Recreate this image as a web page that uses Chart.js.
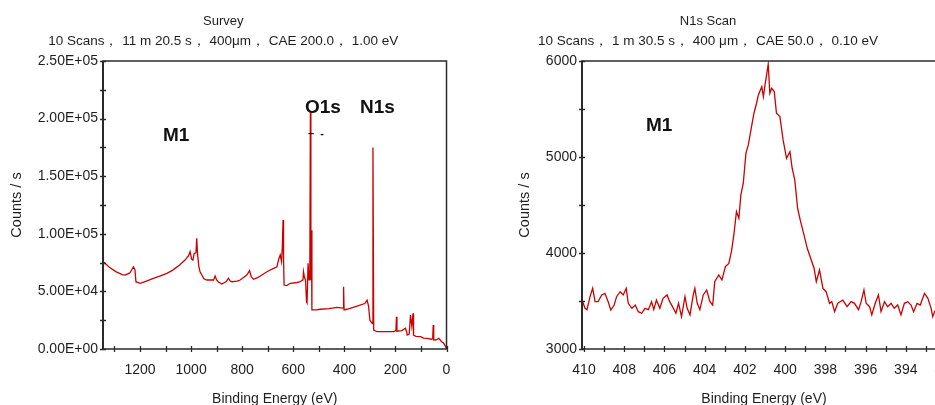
<!DOCTYPE html>
<html>
<head>
<meta charset="utf-8">
<script src="https://cdn.jsdelivr.net/npm/chart.js@4.4.1/dist/chart.umd.min.js"></script>
<style>
  html, body { margin: 0; padding: 0; background: #fff; overflow: hidden; width: 935px; height: 405px; }
  .panel { position: absolute; top: 0; }
  #surveyBox { left: 0; }
  #n1sBox { left: 470px; }
</style>
</head>
<body>
<div class="panel" id="surveyBox"><canvas id="survey" width="460" height="410"></canvas></div>
<div class="panel" id="n1sBox"><canvas id="n1s" width="490" height="410"></canvas></div>
<script>
// survey spectrum, binding energy (eV) vs counts/s
const surveyEnergy = [
  1345, 1320, 1293, 1270, 1259, 1240, 1233, 1226, 1220, 1216, 1200, 1175, 1148, 1120, 1095,
  1075, 1063, 1045, 1024, 1010, 1004, 998, 993, 988, 981, 978, 975, 970, 965, 950,
  938, 912, 906, 900, 894, 880, 862, 854, 847, 840, 820, 808, 782, 771, 765,
  756, 740, 729, 703, 677, 664, 657, 651, 646, 643, 640, 638, 636, 625, 612,
  590, 573, 562, 560, 556, 552, 548, 546, 542, 538, 535, 533, 531, 529, 527,
  510, 494, 460, 429, 405, 403, 401, 390, 350, 320, 311, 305, 300, 290, 288,
  285, 272, 240, 207, 198, 196, 194, 175, 161, 156, 154, 146, 141, 136, 131,
  129, 120, 102, 90, 76, 60, 54, 52, 50, 40, 30, 20, 11, 0
];
const surveyCounts = [
  76000, 71000, 67000, 64500, 64200, 66000, 68600, 71400, 69000, 58400, 57000, 59000, 61300, 63500, 65700,
  68000, 70000, 73000, 77200, 81000, 84500, 78000, 77200, 83000, 83500, 96000, 83000, 72000, 67100, 61000,
  59900, 59900, 63400, 60000, 58400, 56400, 58500, 61400, 59000, 58400, 59000, 59900, 64200, 68000, 63000,
  60500, 62000, 63400, 67100, 70000, 71400, 78000, 81600, 76000, 88000, 112000, 78000, 55500, 55000, 57000,
  57500, 58400, 60000, 67100, 62000, 60000, 41000, 40000, 74400, 60000, 75000, 206000, 60000, 103000, 33900,
  34000, 34500, 35000, 36200, 35500, 54000, 34000, 34500, 37300, 39500, 42500, 37000, 25000, 22000, 175000,
  16500, 15000, 15000, 15000, 16000, 28000, 15500, 16000, 18000, 15000, 12100, 13000, 29500, 20000, 31000,
  12000, 11000, 10700, 9500, 9300, 8500, 9000, 20800, 7800, 8000, 9300, 6500, 5000, 600
];

// N1s high resolution scan
const n1sEnergy = [
  410.1, 409.95, 409.85, 409.7, 409.57, 409.45, 409.3, 409.12, 408.96, 408.8,
  408.67, 408.5, 408.38, 408.2, 408.05, 407.9, 407.8, 407.62, 407.45, 407.3,
  407.13, 406.97, 406.8, 406.64, 406.53, 406.4, 406.23, 406.07, 405.87, 405.74,
  405.6, 405.43, 405.3, 405.15, 404.98, 404.87, 404.73, 404.57, 404.49, 404.37,
  404.24, 404.07, 403.9, 403.74, 403.6, 403.5, 403.3, 403.14, 402.97, 402.8,
  402.67, 402.55, 402.42, 402.3, 402.2, 402.08, 401.95, 401.83, 401.67, 401.55,
  401.42, 401.33, 401.16, 401.08, 401.0, 400.92, 400.84, 400.76, 400.67, 400.54,
  400.43, 400.26, 400.1, 399.93, 399.76, 399.65, 399.52, 399.38, 399.23, 399.06,
  398.9, 398.73, 398.56, 398.45, 398.29, 398.12, 397.96, 397.79, 397.68, 397.54,
  397.38, 397.13, 396.92, 396.72, 396.55, 396.35, 396.22, 396.08, 395.97, 395.8,
  395.69, 395.52, 395.36, 395.23, 395.06, 394.9, 394.73, 394.57, 394.4, 394.24,
  394.07, 393.9, 393.74, 393.61, 393.44, 393.28, 393.07, 392.9, 392.74, 392.66, 392.55
];
const n1sCounts = [
  3510, 3424, 3410, 3545, 3632, 3493, 3493, 3563, 3580, 3493,
  3406, 3458, 3545, 3597, 3563, 3632, 3476, 3424, 3458, 3389,
  3372, 3424, 3410, 3493, 3410, 3510, 3424, 3528, 3563, 3493,
  3441, 3372, 3476, 3337, 3545, 3424, 3355, 3563, 3632, 3476,
  3410, 3563, 3615, 3493, 3458, 3701, 3771, 3719, 3858, 3892,
  4014, 4188, 4431, 4362, 4605, 4727, 5039, 5126, 5316, 5456,
  5560, 5647, 5733, 5629, 5751, 5855, 5966, 5664, 5716, 5681,
  5456, 5421, 5178, 4987, 5056, 4883, 4761, 4466, 4327, 4188,
  4049, 3945, 3841, 3701, 3823, 3632, 3597, 3476, 3493, 3389,
  3476, 3510, 3441, 3493, 3476, 3410, 3493, 3615, 3476, 3441,
  3355, 3476, 3563, 3389, 3493, 3441, 3476, 3424, 3458, 3355,
  3476, 3493, 3458, 3389, 3476, 3458, 3580, 3528, 3424, 3337, 3400
];

const RED = '#cc0000';
const INK = '#1e1e1e';
const FONT = '"Liberation Sans", Arial, sans-serif';

// 2.50E+05 style labels
function sci(v) {
  const [m, e] = v.toExponential(2).split('e');
  const n = Math.abs(+e);
  return m + 'E' + (+e < 0 ? '-' : '+') + String(n).padStart(2, '0');
}

// box around the plot, ticks crossing the axes and the peak labels
const frameTicks = {
  id: 'frameTicks',
  afterDatasetsDraw(chart, args, opts) {
    const { ctx, chartArea: a, scales } = chart;
    ctx.save();
    ctx.strokeStyle = '#2a2a2a';
    ctx.lineWidth = 1.5;
    ctx.strokeRect(a.left, a.top, a.right - a.left, a.bottom - a.top);
    ctx.lineWidth = 2;
    ctx.beginPath();
    ctx.moveTo(a.left, a.top);
    ctx.lineTo(a.left, a.bottom);
    ctx.stroke();

    ctx.lineWidth = 1.3;
    ctx.beginPath();
    scales.x.ticks.forEach((t, i) => {
      const px = Math.round(scales.x.getPixelForTick(i)) + 0.5;
      ctx.moveTo(px, a.bottom - 3);
      ctx.lineTo(px, a.bottom + 3);
    });
    scales.y.ticks.forEach((t, i) => {
      const py = Math.round(scales.y.getPixelForTick(i)) + 0.5;
      ctx.moveTo(a.left - 3, py);
      ctx.lineTo(a.left + 3, py);
    });
    ctx.stroke();

    ctx.fillStyle = '#111';
    ctx.textBaseline = 'alphabetic';
    (opts.labels || []).forEach(l => {
      ctx.font = l.font || ('bold 19px ' + FONT);
      ctx.fillText(l.text, l.x, l.y);
    });
    ctx.restore();
  }
};

function buildChart(id, cfg) {
  const points = cfg.xs.map((x, i) => ({ x, y: cfg.ys[i] }));
  return new Chart(document.getElementById(id), {
    type: 'line',
    data: {
      datasets: [{
        data: points,
        borderColor: RED,
        borderWidth: 1.3,
        pointRadius: 0,
        tension: 0,
        fill: false
      }]
    },
    options: {
      responsive: false,
      animation: false,
      events: [],
      layout: { padding: { left: 0, right: cfg.padRight, top: 0, bottom: 0 } },
      plugins: {
        legend: { display: false },
        tooltip: { enabled: false },
        title: {
          display: true,
          text: cfg.title,
          color: INK,
          font: { family: FONT, size: 13, weight: 'normal' },
          padding: { top: 14, bottom: 0 }
        },
        subtitle: {
          display: true,
          text: cfg.subtitle,
          color: INK,
          font: { family: FONT, size: 13.5 },
          padding: { top: 4, bottom: 11.2 }
        },
        frameTicks: { labels: cfg.labels }
      },
      scales: {
        x: {
          type: 'linear',
          reverse: true,
          min: cfg.xMin,
          max: cfg.xMax,
          // fixed axis height, and no extra room for the end labels
          afterFit: s => { s.height = 61; s.paddingLeft = 0; s.paddingRight = 0; },
          grid: { display: false, drawTicks: false },
          border: { display: false },
          ticks: {
            stepSize: cfg.xStep,
            includeBounds: false,
            autoSkip: false,
            maxRotation: 0,
            padding: 12.6,
            color: INK,
            font: { family: FONT, size: 14 },
            callback: cfg.xLabel
          },
          title: {
            display: true,
            text: 'Binding Energy (eV)',
            color: INK,
            font: { family: FONT, size: 14 },
            padding: { top: 0, bottom: 2 }
          }
        },
        y: {
          type: 'linear',
          min: cfg.yMin,
          max: cfg.yMax,
          afterFit: s => { s.width = cfg.yWidth; s.paddingTop = 0; s.paddingBottom = 0; },
          grid: { display: false, drawTicks: false },
          border: { display: false },
          ticks: {
            stepSize: cfg.yStep,
            includeBounds: false,
            autoSkip: false,
            padding: 5,
            color: INK,
            font: { family: FONT, size: 14 },
            callback: cfg.yLabel
          },
          title: {
            display: true,
            text: 'Counts / s',
            color: INK,
            font: { family: FONT, size: 14.5 },
            padding: { top: cfg.yTitlePad, bottom: 0 }
          }
        }
      }
    },
    plugins: [frameTicks]
  });
}

Chart.register(frameTicks);

buildChart('survey', {
  xs: surveyEnergy,
  ys: surveyCounts,
  title: 'Survey',
  subtitle: '10 Scans， 11 m 20.5 s， 400μm， CAE 200.0， 1.00 eV',
  xMin: 0, xMax: 1345, xStep: 100,
  yMin: 0, yMax: 250000, yStep: 25000,
  xLabel: v => (Math.round(v) % 200 === 0 ? Math.round(v) : ''),
  yLabel: v => (v % 50000 === 0 ? sci(v) : ''),
  yWidth: 103,
  yTitlePad: 8.3,
  padRight: 13.5,
  labels: [
    { text: 'M1', x: 163, y: 141 },
    { text: 'O1s', x: 305, y: 113 },
    { text: 'N1s', x: 360, y: 113 },
    { text: '–  -', x: 308, y: 137, font: 'bold 11px ' + FONT }
  ]
});

buildChart('n1s', {
  xs: n1sEnergy,
  ys: n1sCounts,
  title: 'N1s Scan',
  subtitle: '10 Scans， 1 m 30.5 s， 400 μm， CAE 50.0， 0.10 eV',
  xMin: 392, xMax: 410.1, xStep: 1,
  yMin: 3000, yMax: 6000, yStep: 500,
  xLabel: v => (Math.round(v) % 2 === 0 ? Math.round(v) : ''),
  yLabel: v => (v % 1000 === 0 ? v : ''),
  yWidth: 112,
  yTitlePad: 46.3,
  padRight: 14,
  labels: [
    { text: 'M1', x: 176, y: 131 }
  ]
});
</script>
</body>
</html>
